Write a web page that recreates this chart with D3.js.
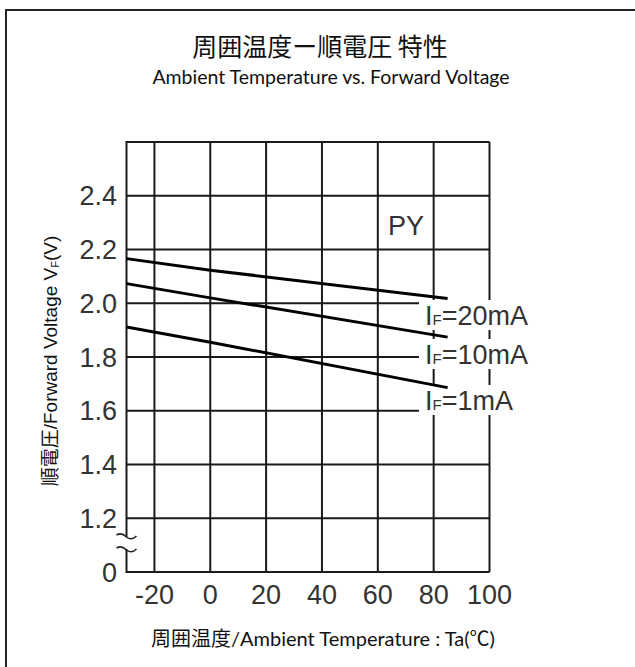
<!DOCTYPE html>
<html><head><meta charset="utf-8">
<script src="https://cdn.jsdelivr.net/npm/d3@7"></script>
<style>body{margin:0;background:#fff}svg{display:block}</style>
</head><body>
<script>
// ---- data ----
const xTickValues = [-20, 0, 20, 40, 60, 80, 100];
const xTickLabels = ["-20", "0", "20", "40", "60", "80", "100"];
const yTickValues = [1.0, 1.2, 1.4, 1.6, 1.8, 2.0, 2.2, 2.4];
const yTickLabels = ["0", "1.2", "1.4", "1.6", "1.8", "2.0", "2.2", "2.4"];
const yGridValues = [1.2, 1.4, 1.6, 1.8, 2.0, 2.2, 2.4, 2.6];
const seriesNames = ["20mA", "10mA", "1mA"];
const temps = [-30, 0, 85];
const vf20mA = [2.166, 2.123, 2.018];
const vf10mA = [2.073, 2.020, 1.874];
const vf1mA = [1.912, 1.855, 1.686];
const labelBaselineValues = [1.919, 1.774, 1.603]; // label baseline (V) next to each curve

const W = 635, H = 667;
const svg = d3.select("body").append("svg").attr("width", W).attr("height", H);

// outer frame (extends past right / bottom)
svg.append("rect").attr("x", 6).attr("y", 10).attr("width", 640).attr("height", 670)
  .attr("fill", "none").attr("stroke", "#222").attr("stroke-width", 2);

const x = d3.scaleLinear().domain([-30, 100]).range([126.5, 489.5]);
const y = d3.scaleLinear().domain([1.0, 2.6]).range([572, 142]);

const gridColor = "#1a1a1a";
const g = svg.append("g");

// vertical grid lines
g.selectAll("line.vx").data(xTickValues).enter().append("line")
  .attr("x1", d => x(d)).attr("x2", d => x(d))
  .attr("y1", y(2.6)).attr("y2", y(1.0))
  .attr("stroke", gridColor).attr("stroke-width", 2);
// horizontal grid lines
g.selectAll("line.hy").data(yGridValues).enter().append("line")
  .attr("x1", x(-30)).attr("x2", x(100))
  .attr("y1", d => y(d)).attr("y2", d => y(d))
  .attr("stroke", gridColor).attr("stroke-width", 2);
// bottom axis
g.append("line").attr("x1", x(-30)).attr("x2", x(100)).attr("y1", y(1.0)).attr("y2", y(1.0))
  .attr("stroke", gridColor).attr("stroke-width", 2);
// left axis with break
const ax = x(-30);
g.append("line").attr("x1", ax).attr("x2", ax).attr("y1", y(2.6) - 1).attr("y2", 537)
  .attr("stroke", gridColor).attr("stroke-width", 2);
g.append("line").attr("x1", ax).attr("x2", ax).attr("y1", 549).attr("y2", y(1.0) + 1)
  .attr("stroke", gridColor).attr("stroke-width", 2);
[536, 549].forEach(cy => {
  g.append("path")
    .attr("d", `M${ax - 10},${cy - 1} Q${ax - 5},${cy - 4} ${ax},${cy + 1} Q${ax + 5},${cy + 5} ${ax + 10},${cy}`)
    .attr("fill", "none").attr("stroke", "#222").attr("stroke-width", 1.6);
});

// tick labels
const tickFont = "'Liberation Sans', Arial, sans-serif";
svg.selectAll("text.yt").data(yTickValues).enter().append("text")
  .attr("x", 117).attr("y", d => y(d)).attr("dy", "0.36em")
  .attr("text-anchor", "end").attr("font-family", tickFont).attr("font-size", 27)
  .attr("fill", "#333").text((d, i) => yTickLabels[i]);
svg.selectAll("text.xt").data(xTickValues).enter().append("text")
  .attr("x", d => x(d)).attr("y", 604)
  .attr("text-anchor", "middle").attr("font-family", tickFont).attr("font-size", 27)
  .attr("fill", "#333").text((d, i) => xTickLabels[i]);

// curve labels with white backing
const lx = 425;
seriesNames.forEach((name, i) => {
  const by = y(labelBaselineValues[i]);
  svg.append("rect").attr("x", 419).attr("y", by - 25).attr("width", 125).attr("height", 30).attr("fill", "#fff");
  const t = svg.append("text").attr("x", lx).attr("y", by)
    .attr("font-family", tickFont).attr("font-size", 27).attr("fill", "#333");
  t.append("tspan").text("I");
  t.append("tspan").attr("font-size", 15).text("F");
  t.append("tspan").text("=" + name);
});

// data lines
const line = d3.line().x(d => x(d[0])).y(d => y(d[1]));
[vf20mA, vf10mA, vf1mA].forEach(vals => {
  svg.append("path").datum(temps.map((t, i) => [t, vals[i]]))
    .attr("d", line).attr("fill", "none").attr("stroke", "#000").attr("stroke-width", 3);
});

// PY label
svg.append("text").attr("x", 388).attr("y", 235)
  .attr("font-family", tickFont).attr("font-size", 27).attr("fill", "#333").text("PY");

// titles
svg.append("text").attr("x", 320).attr("y", 56).attr("text-anchor", "middle")
  .attr("font-family", "'Noto Sans CJK JP', sans-serif").attr("font-size", 25).attr("fill", "#111")
  .text("周囲温度ー順電圧 特性");
svg.append("text").attr("x", 331).attr("y", 84).attr("text-anchor", "middle")
  .attr("font-family", "Lato, 'Open Sans', sans-serif").attr("font-size", 19.5).attr("fill", "#111")
  .text("Ambient Temperature vs. Forward Voltage");

// x-axis title
svg.append("text").attr("x", 323).attr("y", 646).attr("text-anchor", "middle")
  .attr("font-family", "Lato, 'Noto Sans CJK JP', sans-serif").attr("font-size", 20).attr("fill", "#111")
  .text("周囲温度/Ambient Temperature : Ta(℃)");

// y-axis title
const yt = svg.append("text").attr("transform", "translate(57,361) rotate(-90)")
  .attr("text-anchor", "middle").attr("font-family", tickFont).attr("font-size", 19).attr("fill", "#111");
yt.append("tspan").attr("font-family", "'Noto Sans CJK JP', sans-serif").text("順電圧");
yt.append("tspan").text("/Forward Voltage V");
yt.append("tspan").attr("font-size", 11).attr("dy", 2).text("F");
yt.append("tspan").attr("dy", -2).text("(V)");
</script>
</body></html>
